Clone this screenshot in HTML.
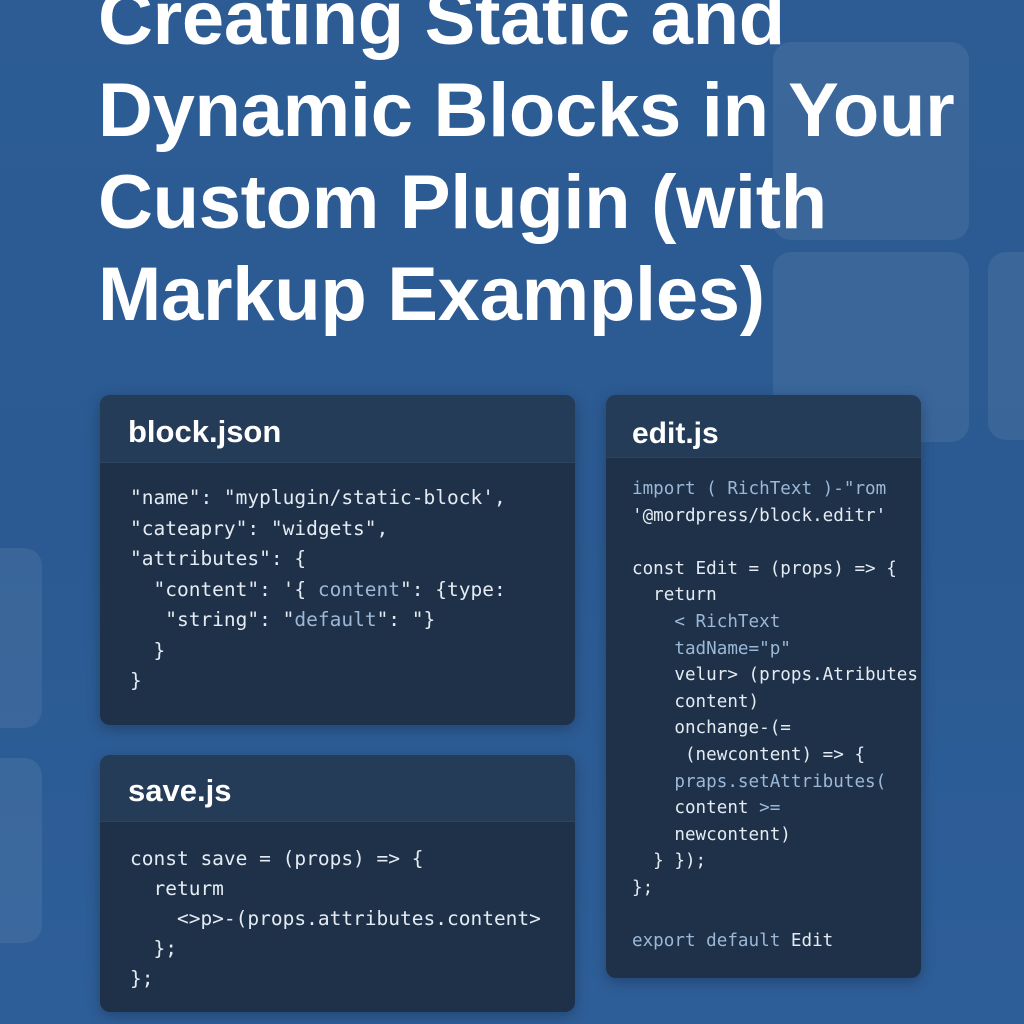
<!DOCTYPE html>
<html><head><style>
html,body{margin:0;padding:0}
body{width:1024px;height:1024px;overflow:hidden;position:relative;background:linear-gradient(180deg,#2d5c94 0%,#2b5a92 50%,#2e5e98 100%);font-family:"Liberation Sans",sans-serif}
.sq{position:absolute;background:rgba(255,255,255,0.07);border-radius:18px}
h1{position:absolute;left:98px;top:-27px;margin:0;color:#fff;font-size:76px;line-height:92px;font-weight:bold;letter-spacing:-0.3px;white-space:nowrap}
.card{position:absolute;background:#1e3148;border-radius:10px;overflow:hidden;box-shadow:0 4px 14px rgba(0,0,0,0.25)}
.hd{background:#253c58;color:#fff;font-weight:bold;font-size:31px;padding-left:28px;box-sizing:border-box;border-bottom:1px solid #2b4462}
pre{margin:0;font-family:"DejaVu Sans Mono","Liberation Mono",monospace;color:#e4ebf3;position:absolute}
.b{color:#9cb8d8}
</style></head><body>
<div class="sq" style="left:773px;top:42px;width:196px;height:198px"></div>
<div class="sq" style="left:773px;top:252px;width:196px;height:190px"></div>
<div class="sq" style="left:988px;top:252px;width:60px;height:188px"></div>
<div class="sq" style="left:-20px;top:548px;width:62px;height:180px"></div>
<div class="sq" style="left:-20px;top:758px;width:62px;height:185px"></div>
<h1>Creating Static and<br>Dynamic Blocks in Your<br>Custom Plugin (with<br>Markup Examples)</h1>

<div class="card" style="left:100px;top:395px;width:475px;height:330px">
<div class="hd" style="height:68px;line-height:74px">block.json</div>
<pre style="left:30px;top:88px;font-size:19.5px;line-height:30.5px">"name": "myplugin/static-block',
"cateapry": "widgets",
"attributes": {
  "content": '{ <span class="b">content</span>": {type:
   "string": "<span class="b">default</span>": "}
  }
}</pre>
</div>

<div class="card" style="left:100px;top:755px;width:475px;height:257px">
<div class="hd" style="height:67px;line-height:72px">save.js</div>
<pre style="left:30px;top:89px;font-size:19.5px;line-height:30px">const save = (props) => {
  returm
    &lt;>p>-(props.attributes.content>
  };
};</pre>
</div>

<div class="card" style="left:606px;top:395px;width:315px;height:583px">
<div class="hd" style="height:63px;line-height:78px;padding-left:26px;font-size:30px">edit.js</div>
<pre style="left:26px;top:81px;font-size:17.6px;line-height:26.6px"><span class="b">import ( RichText )-"rom</span>
'@mordpress/block.editr'

const Edit = (props) => {
  return
    <span class="b">&lt; RichText
    tadName="p"</span>
    velur> (props.Atributes
    content)
    onchange-(=
     (newcontent) => {
    <span class="b">praps.setAttributes(</span>
    content <span class="b">>=</span>
    newcontent)
  } });
};

<span class="b">export default</span> Edit</pre>
</div>
</body></html>
